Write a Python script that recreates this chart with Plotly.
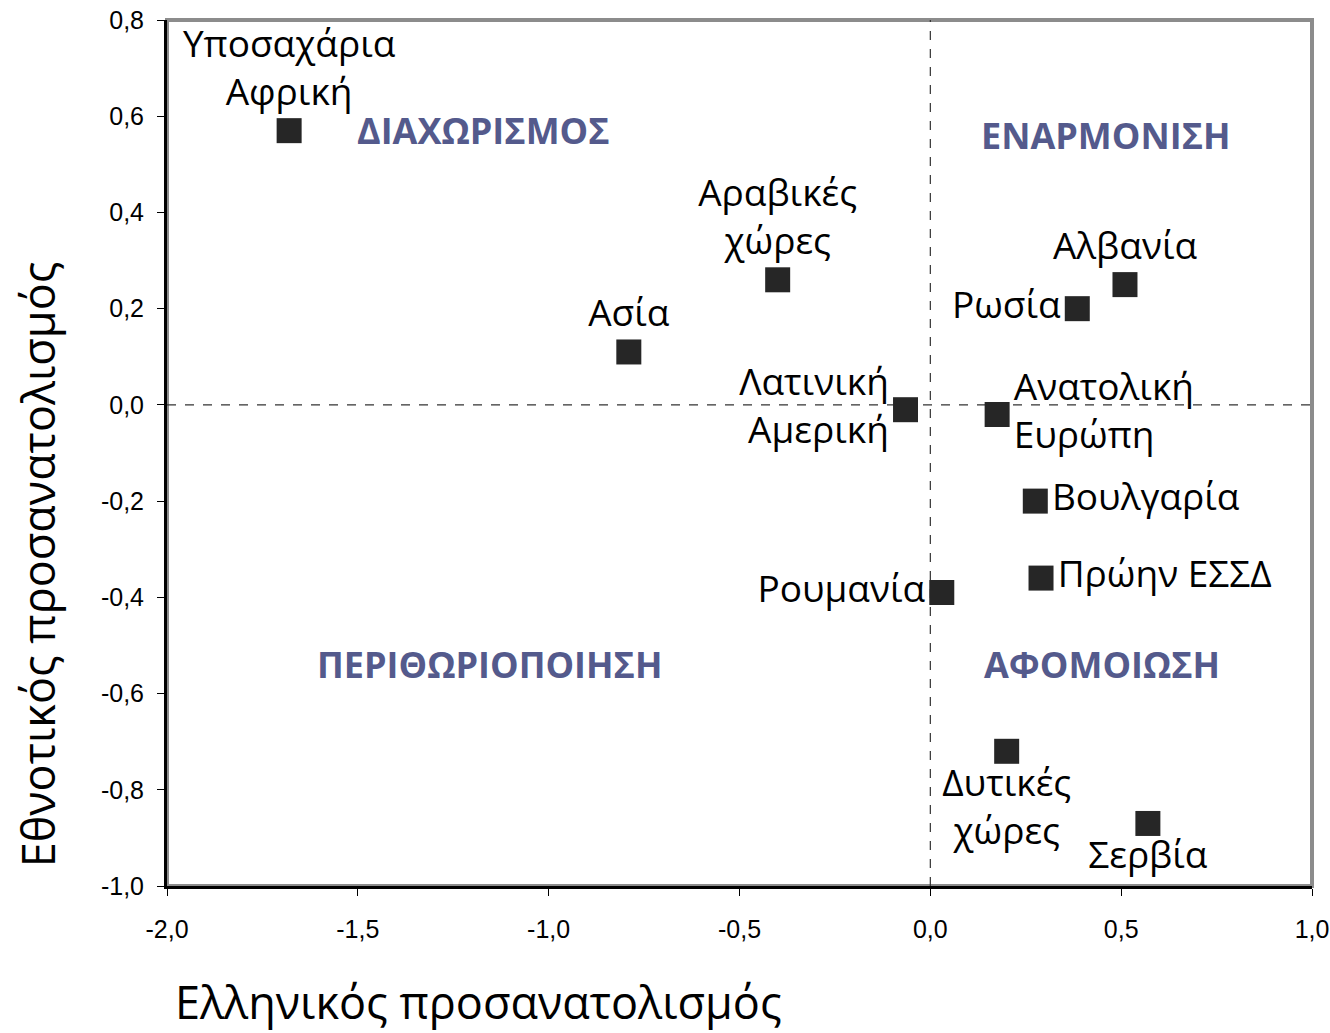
"""Ελληνικός / Εθνοτικός προσανατολισμός ανά χώρα προέλευσης"""

import plotly.graph_objects as go

# δεδομένα
countries = ["Υποσαχάρια<br>Αφρική", "Αραβικές<br>χώρες", "Ασία", "Λατινική<br>Αμερική",
             "Ανατολική<br>Ευρώπη", "Ρωσία", "Αλβανία", "Βουλγαρία", "Πρώην ΕΣΣΔ",
             "Ρουμανία", "Δυτικές<br>χώρες", "Σερβία"]
greek_orient = [-1.68, -0.40, -0.79, -0.065, 0.175, 0.385, 0.51, 0.275, 0.29, 0.03, 0.20, 0.57]
ethnic_orient = [0.57, 0.26, 0.11, -0.01, -0.02, 0.20, 0.25, -0.20, -0.36, -0.39, -0.72, -0.87]
label_pos = ["top center", "top center", "top center", "middle left",
             "middle right", "middle left", "top center", "middle right", "middle right",
             "middle left", "bottom center", "bottom center"]

quadrants = ["ΔΙΑΧΩΡΙΣΜΟΣ", "ΕΝΑΡΜΟΝΙΣΗ", "ΠΕΡΙΘΩΡΙΟΠΟΙΗΣΗ", "ΑΦΟΜΟΙΩΣΗ"]
quad_x = [-1.17, 0.46, -1.155, 0.45]
quad_y = [0.57, 0.56, -0.54, -0.54]

x_ticks = [-2.0, -1.5, -1.0, -0.5, 0.0, 0.5, 1.0]
x_ticklabels = ["-2,0", "-1,5", "-1,0", "-0,5", "0,0", "0,5", "1,0"]
y_ticks = [-1.0, -0.8, -0.6, -0.4, -0.2, 0.0, 0.2, 0.4, 0.6, 0.8]
y_ticklabels = ["-1,0", "-0,8", "-0,6", "-0,4", "-0,2", "0,0", "0,2", "0,4", "0,6", "0,8"]

LABEL_FONT = "Open Sans, Noto Sans, sans-serif"
TICK_FONT = "Liberation Sans Narrow, Liberation Sans, Arial, sans-serif"

fig = go.Figure()

fig.add_trace(go.Scatter(
    x=greek_orient,
    y=ethnic_orient,
    mode='markers+text',
    text=countries,
    textposition=label_pos,
    textfont=dict(family=LABEL_FONT, size=37, color='black'),
    marker=dict(symbol='square', size=25, color='#262626'),
    cliponaxis=False,
    showlegend=False,
))

# διακεκομμένες γραμμές στο 0
fig.add_shape(type='line', xref='x', yref='y', x0=0, x1=0, y0=-1.0, y1=0.8,
              line=dict(color='#333333', width=1.2, dash='dash'), layer='below')
fig.add_shape(type='line', xref='x', yref='y', x0=-2.0, x1=1.0, y0=0, y1=0,
              line=dict(color='#333333', width=1.2, dash='dash'), layer='below')

# γκρι πλαίσιο
fig.add_shape(type='rect', xref='paper', yref='paper', x0=0, x1=1, y0=0, y1=1,
              line=dict(color='#8c8c8c', width=4), layer='below')

for name, qx, qy in zip(quadrants, quad_x, quad_y):
    fig.add_annotation(x=qx, y=qy, text=f"<b>{name}</b>", showarrow=False,
                       xanchor='center', yanchor='middle',
                       font=dict(family=LABEL_FONT, size=36, color='#545a8c'))

# τίτλοι αξόνων
fig.add_annotation(x=0.272, y=-0.133, xref='paper', yref='paper',
                   xanchor='center', yanchor='middle',
                   text="Ελληνικός προσανατολισμός", showarrow=False,
                   font=dict(family=LABEL_FONT, size=45, color='black'))
fig.add_annotation(x=-0.113, y=0.371, xref='paper', yref='paper',
                   xanchor='center', yanchor='middle',
                   text="Εθνοτικός προσανατολισμός", showarrow=False, textangle=-90,
                   font=dict(family=LABEL_FONT, size=45, color='black'))

axis_common = dict(
    showgrid=False,
    zeroline=False,
    showline=True,
    linecolor='black',
    linewidth=3,
    ticks='outside',
    ticklen=7,
    tickcolor='black',
    automargin=False,
    ticklabeloverflow='allow',
    tickfont=dict(family=TICK_FONT, size=25, color='black'),
)

fig.update_layout(
    width=1330,
    height=1033,
    margin=dict(l=167, r=18, t=20, b=147),
    paper_bgcolor='white',
    plot_bgcolor='white',
    xaxis=dict(range=[-2.0, 1.0], tickvals=x_ticks, ticktext=x_ticklabels,
               ticklabelstandoff=12, **axis_common),
    yaxis=dict(range=[-1.0, 0.8], tickvals=y_ticks, ticktext=y_ticklabels,
               ticklabelstandoff=8, **axis_common),
)

# χωρίς περιθώριο σελίδας, ώστε το σχήμα να γεμίζει ακριβώς το παράθυρο
fig.write_html("out.html",
               config={'displayModeBar': False},
               post_script="document.body.style.margin='0';document.body.style.overflow='hidden';")
